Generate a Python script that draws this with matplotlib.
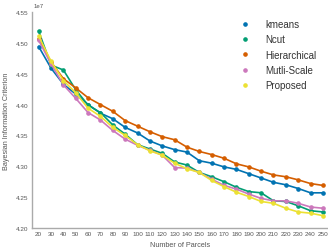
import matplotlib
matplotlib.use("Agg")
import matplotlib.pyplot as plt
from matplotlib.lines import Line2D

plt.rcParams["font.family"] = ["Liberation Sans", "DejaVu Sans"]

parcels = [20, 30, 40, 50, 60, 70, 80, 90, 100, 110, 120, 130, 140, 150, 160, 170, 180, 190, 200, 210, 220, 230, 240, 250]

kmeans = [4.494, 4.459, 4.433, 4.417, 4.400, 4.386, 4.377, 4.363, 4.354, 4.341, 4.333, 4.327, 4.323, 4.309, 4.305, 4.299, 4.295, 4.288, 4.281, 4.274, 4.270, 4.264, 4.257, 4.257]
ncut = [4.519, 4.464, 4.456, 4.424, 4.399, 4.387, 4.367, 4.352, 4.335, 4.328, 4.321, 4.307, 4.302, 4.290, 4.283, 4.275, 4.266, 4.259, 4.257, 4.244, 4.243, 4.236, 4.228, 4.226]
hierarchical = [4.507, 4.469, 4.442, 4.427, 4.411, 4.400, 4.389, 4.374, 4.365, 4.356, 4.348, 4.343, 4.331, 4.324, 4.319, 4.313, 4.304, 4.299, 4.292, 4.286, 4.283, 4.278, 4.272, 4.269]
multiscale = [4.504, 4.466, 4.432, 4.410, 4.387, 4.375, 4.358, 4.344, 4.334, 4.326, 4.318, 4.298, 4.297, 4.290, 4.279, 4.269, 4.263, 4.255, 4.248, 4.244, 4.244, 4.240, 4.234, 4.232]
proposed = [4.511, 4.470, 4.439, 4.419, 4.394, 4.381, 4.363, 4.350, 4.335, 4.325, 4.318, 4.305, 4.296, 4.290, 4.277, 4.267, 4.258, 4.251, 4.243, 4.240, 4.232, 4.226, 4.224, 4.220]

names = ["kmeans", "Ncut", "Hierarchical", "Mutli-Scale", "Proposed"]
series = [kmeans, ncut, hierarchical, multiscale, proposed]
colors = ["#0173b2", "#029e73", "#d55e00", "#cc78bc", "#ece133"]
xticks = list(range(20, 260, 10))
yticks = [4.20, 4.25, 4.30, 4.35, 4.40, 4.45, 4.50, 4.55]

fig = plt.figure(figsize=(3.28, 2.53), dpi=100)
ax = fig.add_axes([32/328, 24/253, 296/328, 216/253])

for i in range(len(series)):
    vals = [v * 1e7 for v in series[i]]
    ax.plot(parcels, vals, color=colors[i], lw=1.2, marker="o", ms=2.3, label=names[i], zorder=3)

ax.set_xlim(14.6, 254.1)
ax.set_ylim(4.20e7, 4.55e7)
ax.set_xticks(xticks)
ax.set_xticklabels([str(t) for t in xticks])
ax.set_yticks([t * 1e7 for t in yticks])
ax.set_yticklabels([f"{t:.2f}" for t in yticks])
ax.tick_params(axis="both", length=0, labelsize=4.6, colors="#555555", pad=2.5)
for s in ["top", "right"]:
    ax.spines[s].set_visible(False)
for s in ["left", "bottom"]:
    ax.spines[s].set_color("#aaaaaa")
    ax.spines[s].set_linewidth(1.0)

fig.text(34/328, 1 - 6/253, "1e7", fontsize=4.3, color="#555555", ha="left", va="center")
ax.set_xlabel("Number of Parcels", fontsize=5.2, color="#555555", labelpad=3)
ax.set_ylabel("Bayesian Information Criterion", fontsize=5.2, color="#555555", labelpad=4)

handles = [Line2D([], [], ls="none", marker="o", ms=2.3, color=c) for c in colors]
leg = fig.legend(handles, names, loc="upper left", bbox_to_anchor=(240/328, 1 - 20/253),
                 frameon=False, fontsize=7.0, handlelength=1.0, handletextpad=1.6,
                 labelspacing=0.55, borderaxespad=0, borderpad=0)
for t in leg.get_texts():
    t.set_color("#333333")

fig.savefig("out.png", dpi=100)
